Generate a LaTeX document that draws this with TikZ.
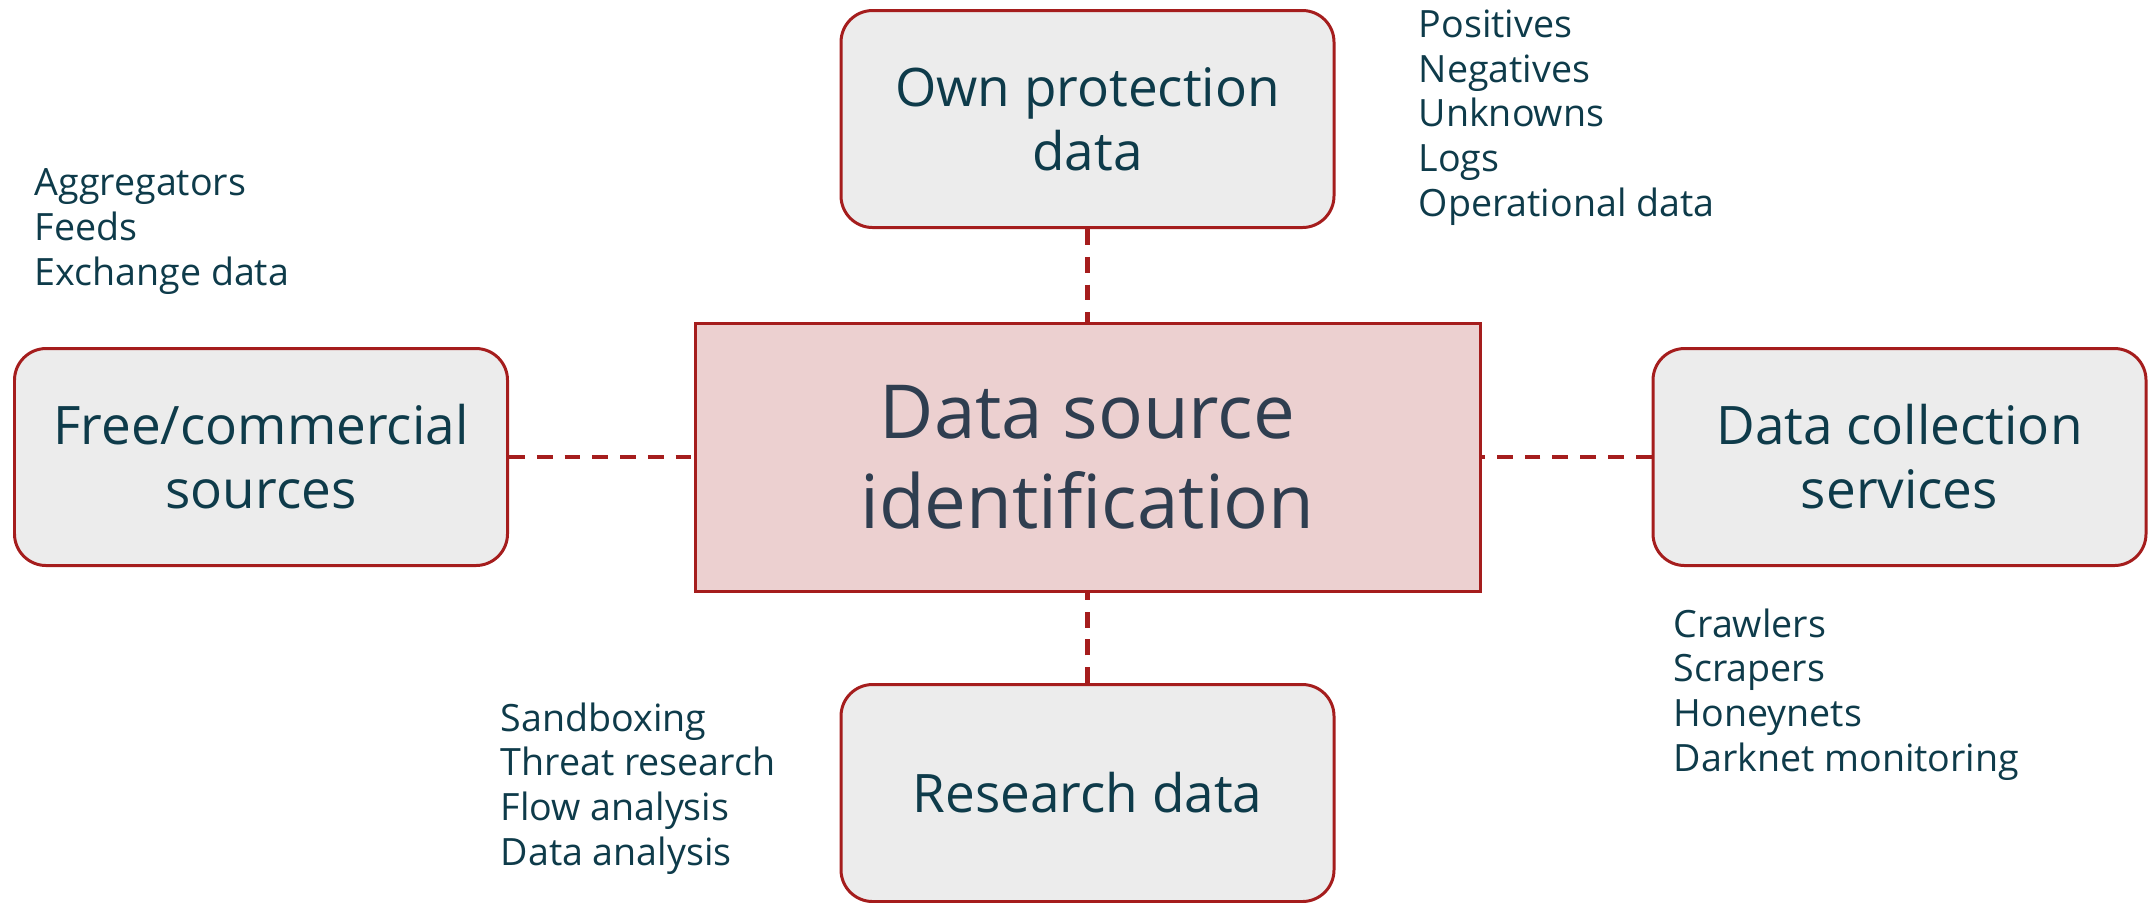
\documentclass[tikz,border=0pt]{standalone}
\usepackage{fontspec}
\setmainfont{Open Sans}
\definecolor{boxred}{HTML}{A51D1D}
\definecolor{boxgrey}{HTML}{ECECEC}
\definecolor{hubpink}{HTML}{ECD0D0}
\definecolor{inkteal}{HTML}{0E3B4A}
\definecolor{inkslate}{HTML}{2F3E50}
\begin{document}
\begin{tikzpicture}[
  srcbox/.style={draw=boxred,line width=0.85pt,fill=boxgrey,rounded corners=9pt,
    minimum width=4.93cm,minimum height=2.17cm,inner sep=0pt,align=center,
    text=inkteal,font=\fontsize{15.1}{18.2}\selectfont},
  hubbox/.style={draw=boxred,line width=0.85pt,fill=hubpink,
    minimum width=7.85cm,minimum height=2.68cm,inner sep=0pt,align=center,
    text=inkslate,font=\fontsize{21.2}{25.6}\selectfont},
  itemlist/.style={anchor=base west,inner sep=0pt,align=left,text=inkteal,
    font=\fontsize{10.7}{12.7}\selectfont},
  link/.style={draw=boxred,line width=1.15pt,dash pattern=on 4.5pt off 3.4pt}]
\useasboundingbox (0,0) rectangle (21.48,-9.02);

\draw (10.875,-4.57) node[hubbox] (hub) {Data source\\identification};
\draw (10.875,-1.19) node[srcbox] (own) {Own protection\\data};
\draw (2.61,-4.57) node[srcbox] (free) {Free/commercial\\sources};
\draw (18.995,-4.57) node[srcbox] (collect) {Data collection\\services};
\draw (10.875,-7.93) node[srcbox] (research) {Research data};

% dashed links to the hub
\draw[link] (own) -- (hub);
\draw[link] (free) -- (hub);
\draw[link] (collect) -- (hub);
\draw[link] (research) -- (hub);

% what each source delivers (placed by the last line)
\draw (14.18,-2.16) node[itemlist] (ownlist) {Positives\\Negatives\\Unknowns\\Logs\\Operational data};
\draw (0.34,-2.85) node[itemlist] (freelist) {Aggregators\\Feeds\\Exchange data};
\draw (5.00,-8.65) node[itemlist] (researchlist) {Sandboxing\\Threat research\\Flow analysis\\Data analysis};
\draw (16.73,-7.71) node[itemlist] (collectlist) {Crawlers\\Scrapers\\Honeynets\\Darknet monitoring};

\end{tikzpicture}
\end{document}
